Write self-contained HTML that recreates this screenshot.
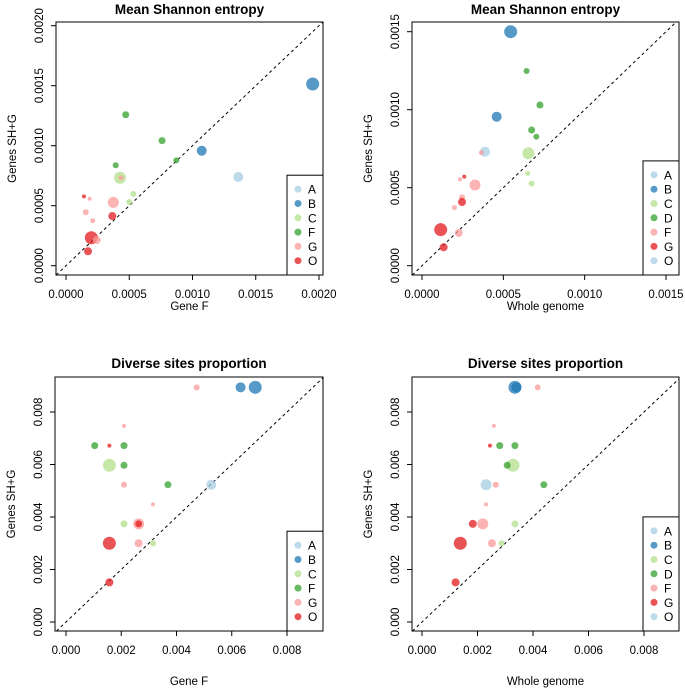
<!DOCTYPE html>
<html><head><meta charset="utf-8"><style>
body{margin:0;background:#fff;}
svg{display:block;font-family:"Liberation Sans",Arial,sans-serif;}
</style></head><body>
<svg id="chart" width="685" height="689" viewBox="0 0 685 689"></svg>
<script>
// ---- Panel 1 data (Mean Shannon entropy vs Gene F)
const p1Groups = ["B","B","A","F","F","F","F","C","G","C","C","G","O","G","G","G","O","O","G","O"];
const p1X = [0.00195,0.001073,0.001362,0.000472,0.000759,0.000872,0.000393,0.000427,0.000435,0.000532,0.0005,0.000374,0.000142,0.000187,0.000156,0.000211,0.000366,0.0002,0.000243,0.000174];
const p1Y = [0.001514,0.000958,0.000739,0.001258,0.001042,0.000878,0.000837,0.000733,0.000733,0.000598,0.000531,0.000528,0.000578,0.000558,0.000445,0.000375,0.000414,0.000233,0.000214,0.00012];
const p1W = [6.5,5,5,3.5,3.5,3,3,6,2.5,3,3,5.5,2,2,3,2.5,4,6.5,4,4];
const p1Legend = ["A","B","C","F","G","O"];
const p1XTicks = ["0.0000","0.0005","0.0010","0.0015","0.0020"];
const p1YTicks = ["0.0000","0.0005","0.0010","0.0015","0.0020"];
// ---- Panel 2 data (Mean Shannon entropy vs Whole genome)
const p2Groups = ["B","B","A","F","D","D","D","D","C","C","C","G","F","F","F","G","F","G","F","G"];
const p2X = [0.000545,0.000459,0.000387,0.000365,0.000643,0.000725,0.000674,0.000703,0.000654,0.00065,0.000674,0.00026,0.000234,0.000326,0.000246,0.000246,0.000199,0.000115,0.000226,0.000133];
const p2Y = [0.0015,0.000955,0.000731,0.000725,0.001248,0.00103,0.00087,0.000827,0.000721,0.000592,0.000526,0.000571,0.000554,0.000517,0.000438,0.000408,0.000372,0.000231,0.00021,0.000118];
const p2W = [6.5,5,5,2.5,3,3.5,3.5,3,6,2.5,3,2,2,5.5,3,4,2.5,6.5,4,4];
const p2Legend = ["A","B","C","D","F","G","O"];
const p2XTicks = ["0.0000","0.0005","0.0010","0.0015"];
const p2YTicks = ["0.0000","0.0005","0.0010","0.0015"];
// ---- Panel 3 data (Diverse sites proportion vs Gene F)
const p3Groups = ["B","B","G","A","G","F","O","F","C","F","G","F","G","C","G","O","G","C","O","O"];
const p3X = [0.00685,0.00632,0.00473,0.00526,0.0021,0.00104,0.00157,0.0021,0.00157,0.0021,0.0021,0.00369,0.00315,0.0021,0.00263,0.00263,0.00263,0.00315,0.00157,0.00157];
const p3Y = [0.00894,0.00894,0.00894,0.00523,0.00747,0.00672,0.00672,0.00672,0.00597,0.00597,0.00523,0.00523,0.00448,0.00374,0.00374,0.00374,0.003,0.003,0.003,0.00151];
const p3W = [6.5,5,3,5,2,3.5,2,3.5,6.5,3.5,3,3.5,2,3.5,5.5,3.5,4,3,6.5,4];
const p3Legend = ["A","B","C","F","G","O"];
const p3XTicks = ["0.000","0.002","0.004","0.006","0.008"];
const p3YTicks = ["0.000","0.002","0.004","0.006","0.008"];
// ---- Panel 4 data (Diverse sites proportion vs Whole genome)
const p4Groups = ["B","B","F","F","G","D","D","C","D","A","F","D","F","G","F","C","G","F","C","G"];
const p4X = [0.00335,0.0034,0.00417,0.00259,0.00245,0.0028,0.00335,0.00328,0.00307,0.00231,0.00266,0.00439,0.00231,0.00183,0.00219,0.00335,0.00138,0.00252,0.00287,0.00121];
const p4Y = [0.00894,0.00894,0.00894,0.00747,0.00672,0.00672,0.00672,0.00597,0.00597,0.00523,0.00523,0.00523,0.00448,0.00374,0.00374,0.00374,0.003,0.003,0.003,0.00151];
const p4W = [6.5,5,3,2,2,3.5,3.5,6.5,3.5,5.5,3,3.5,2,4,5.5,3.5,6.5,4,3,4];
const p4Legend = ["A","B","C","D","F","G","O"];
const p4XTicks = ["0.000","0.002","0.004","0.006","0.008"];
const p4YTicks = ["0.000","0.002","0.004","0.006","0.008"];

const colors = {A:"#a6cee3",B:"#1f78b4",C:"#b2df8a",D:"#33a02c",F:"#33a02c",G:"#fb9a99",O:"#e31a1c"};
const colors2 = {A:"#a6cee3",B:"#1f78b4",C:"#b2df8a",D:"#33a02c",F:"#fb9a99",G:"#e31a1c",O:"#a6cee3"};
const NS="http://www.w3.org/2000/svg";
const svg=document.getElementById('chart');
function mk(tag,attrs,parent){const e=document.createElementNS(NS,tag);for(const k in attrs)e.setAttribute(k,attrs[k]);(parent||svg).appendChild(e);return e;}

function panel(cfg){
  const g=mk('g',{});
  
  
  const [bx0,by0,bx1,by1]=cfg.box;
  const xs=v=>cfg.x0+(v-cfg.xmin)/(cfg.xmax-cfg.xmin)*(cfg.x1-cfg.x0);
  const ys=v=>cfg.y0+(v-cfg.ymin)/(cfg.ymax-cfg.ymin)*(cfg.y1-cfg.y0);
  const t=mk('text',{x:(bx0+bx1)/2,y:cfg.titleY,'text-anchor':'middle','font-size':13.5,'font-weight':'bold'},g);
  t.textContent=cfg.title;
  
  
  const xv0=(bx0-cfg.x0)/(cfg.x1-cfg.x0)*(cfg.xmax-cfg.xmin)+cfg.xmin;
  const yv0=(by1-cfg.y0)/(cfg.y1-cfg.y0)*(cfg.ymax-cfg.ymin)+cfg.ymin;
  const xv1=(bx1-cfg.x0)/(cfg.x1-cfg.x0)*(cfg.xmax-cfg.xmin)+cfg.xmin;
  const yv1=(by0-cfg.y0)/(cfg.y1-cfg.y0)*(cfg.ymax-cfg.ymin)+cfg.ymin;
  const a=Math.max(xv0,yv0), b=Math.min(xv1,yv1);
  const dl=mk('line',{x1:xs(a),y1:ys(a),x2:xs(b),y2:ys(b),stroke:'#000','stroke-width':1,'stroke-dasharray':'3,3'},g);
  
  
  for(let i=0;i<cfg.gx.length;i++){
    const c=mk('circle',{cx:xs(cfg.gx[i]),cy:ys(cfg.gy[i]),r:cfg.w[i],fill:cfg.col[cfg.groups[i]],'fill-opacity':0.75},g);
    
    
  }
  const r=mk('rect',{x:bx0,y:by0,width:bx1-bx0,height:by1-by0,fill:'none',stroke:'#000','stroke-width':1},g);
  
  
  cfg.xt.forEach(lbl=>{
    const v=parseFloat(lbl),px=xs(v);
    mk('line',{x1:px,y1:by1,x2:px,y2:by1+5,stroke:'#000'},g);
    const tx=mk('text',{x:px,y:by1+23,'text-anchor':'middle','font-size':11.5},g);
    tx.textContent=lbl;
    
    
  });
  const xl=mk('text',{x:(bx0+bx1)/2,y:cfg.xlabY,'text-anchor':'middle','font-size':11.5},g);
  xl.textContent=cfg.xlab;
  
  
  cfg.yt.forEach(lbl=>{
    const v=parseFloat(lbl),py=ys(v);
    mk('line',{x1:bx0,y1:py,x2:bx0-5,y2:py,stroke:'#000'},g);
    const tx=mk('text',{x:bx0-13,y:py,'text-anchor':'middle','font-size':11.5,transform:`rotate(-90 ${bx0-13} ${py})`},g);
    tx.textContent=lbl;
    
    
  });
  const yx=bx0-40, ym=(by0+by1)/2;
  const yl=mk('text',{x:yx,y:ym,'text-anchor':'middle','font-size':11.5,transform:`rotate(-90 ${yx} ${ym})`},g);
  yl.textContent='Genes SH+G';
  
  
  const n=cfg.legend.length, lh=14.3;
  const lx0=bx1-36, ly0=by1-(n*lh+14);
  const lg=mk('g',{},g);
  
  
  mk('rect',{x:lx0,y:ly0,width:36,height:by1-ly0,fill:'#fff',stroke:'#000'},lg);
  cfg.legend.forEach((k,i)=>{
    const yy=ly0+14+i*lh;
    const e=mk('g',{},lg);
    
    
    mk('circle',{cx:lx0+11,cy:yy,r:3.5,fill:cfg.col[k],'fill-opacity':0.75},e);
    const tt=mk('text',{x:lx0+21,y:yy+4.5,'font-size':12},e);
    tt.textContent=k;
  });
}
panel({name:'panel-entropy-gene-f',box:[56,22,323,275],x0:66,x1:319,xmin:0,xmax:0.002,y0:265.7,y1:25.7,ymin:0,ymax:0.002,
  titleY:14,xlab:'Gene F',xlabY:310,title:'Mean Shannon entropy',groups:p1Groups,gx:p1X,gy:p1Y,w:p1W,legend:p1Legend,xt:p1XTicks,yt:p1YTicks,col:colors});
panel({name:'panel-entropy-whole-genome',box:[412,22,679,275],x0:422,x1:666,xmin:0,xmax:0.0015,y0:265.7,y1:31.7,ymin:0,ymax:0.0015,
  titleY:14,xlab:'Whole genome',xlabY:310,title:'Mean Shannon entropy',groups:p2Groups,gx:p2X,gy:p2Y,w:p2W,legend:p2Legend,xt:p2XTicks,yt:p2YTicks,col:colors2});
panel({name:'panel-diverse-gene-f',box:[55,377,323,631],x0:66,x1:287,xmin:0,xmax:0.008,y0:622,y1:412,ymin:0,ymax:0.008,
  titleY:368,xlab:'Gene F',xlabY:685,title:'Diverse sites proportion',groups:p3Groups,gx:p3X,gy:p3Y,w:p3W,legend:p3Legend,xt:p3XTicks,yt:p3YTicks,col:colors});
panel({name:'panel-diverse-whole-genome',box:[412,377,679,631],x0:422,x1:644,xmin:0,xmax:0.008,y0:622,y1:412,ymin:0,ymax:0.008,
  titleY:368,xlab:'Whole genome',xlabY:685,title:'Diverse sites proportion',groups:p4Groups,gx:p4X,gy:p4Y,w:p4W,legend:p4Legend,xt:p4XTicks,yt:p4YTicks,col:colors2});
</script>
</body></html>
